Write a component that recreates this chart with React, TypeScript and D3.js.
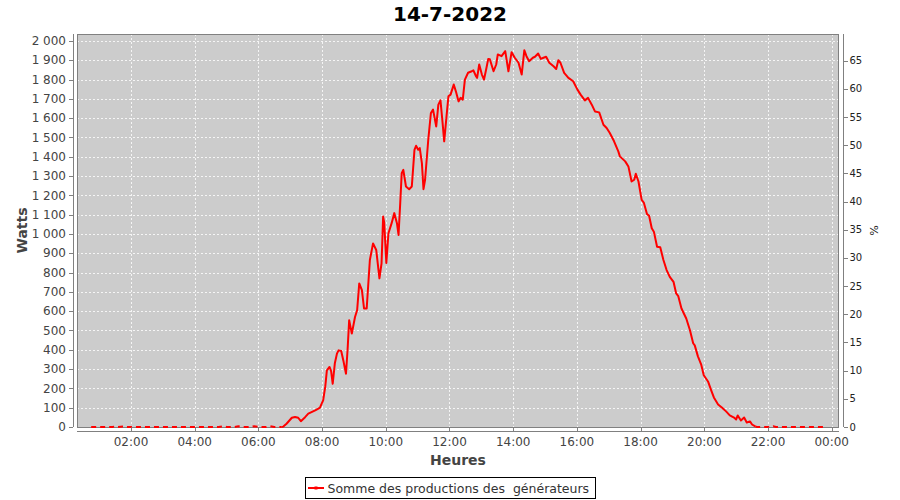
import React from "react";
import * as d3 from "d3";

const title = "14-7-2022";
const yLabel = "Watts";
const y2Label = "%";
const xLabel = "Heures";
const seriesName = "Somme des productions des  générateurs";

const times = [
  "00:45","01:25","01:30","01:35","01:47","01:52","04:45","04:53","05:00","05:15","05:22","05:30","05:45","05:52","06:00","06:15","06:22","06:30","06:44",
  "06:47","06:53","07:03","07:09","07:15","07:20","07:28","07:34","07:40","07:47","07:53","07:56","07:59",
  "08:02","08:06","08:09","08:14","08:17","08:20","08:24","08:28","08:31","08:36","08:40","08:45","08:48","08:51","08:56",
  "09:02","09:06","09:10","09:15","09:19","09:24","09:30","09:36","09:42","09:48","09:52","09:55","09:57",
  "10:01","10:05","10:11","10:16","10:21","10:24","10:27","10:30","10:33","10:38","10:44","10:49","10:54","10:57",
  "11:01","11:04","11:08","11:11","11:14","11:20","11:25","11:29","11:35","11:39","11:43","11:47","11:50","11:55","11:58",
  "12:02","12:08","12:12","12:17","12:21","12:25","12:29","12:35","12:42","12:45","12:50","12:52","12:56",
  "13:01","13:05","13:09","13:13","13:16","13:23","13:28","13:31","13:38","13:45","13:51","13:57",
  "14:03","14:10","14:16","14:21","14:25","14:30","14:37","14:41","14:47","14:52","14:57",
  "15:02","15:08","15:16","15:21","15:25","15:29","15:36","15:44","15:53",
  "16:01","16:07","16:15","16:21","16:28","16:34","16:42","16:50","16:56",
  "17:02","17:10","17:18","17:21","17:31","17:37","17:43","17:48","17:51","17:56",
  "18:02","18:06","18:12","18:16","18:21","18:25","18:31","18:37","18:43","18:49","18:55",
  "19:02","19:07","19:11","19:17","19:26","19:33","19:39","19:42","19:48","19:54","19:59",
  "20:07","20:13","20:18","20:26","20:33","20:41","20:48","20:56",
  "21:00","21:03","21:09","21:15","21:20","21:26","21:30","21:36","21:39",
  "22:05","22:10","22:15","23:50"
];

const watts = [
  0,0,3,0,3,0,0,4,0,0,4,0,0,4,0,0,4,0,0,
  2,17,48,52,48,30,51,69,77,86,95,100,120,
  138,210,293,311,290,224,330,380,397,394,345,276,400,553,484,
  570,605,744,709,614,614,865,951,917,770,848,1090,1060,
  850,1004,1056,1108,1056,995,1150,1315,1332,1246,1232,1246,1436,1457,
  1436,1445,1367,1232,1281,1488,1627,1644,1557,1670,1692,1575,1480,1627,1713,
  1722,1774,1739,1687,1705,1696,1800,1835,1843,1848,1817,1809,1878,
  1826,1800,1852,1907,1905,1843,1878,1930,1921,1947,1843,1942,
  1913,1887,1826,1952,1921,1895,1913,1918,1935,1907,1913,
  1918,1887,1869,1855,1900,1887,1835,1809,1791,
  1748,1722,1692,1705,1670,1635,1630,1566,1549,
  1523,1480,1428,1402,1376,1350,1272,1281,1312,1272,
  1177,1163,1104,1094,1030,1012,934,931,865,813,778,
  752,692,678,614,562,501,434,423,366,325,268,
  236,190,153,117,101,81,60,49,
  39,60,34,49,23,29,13,3,0,
  0,4,0,0
];

const xTickHours = [2, 4, 6, 8, 10, 12, 14, 16, 18, 20, 22, 24];
const xTickLabels = ["02:00","04:00","06:00","08:00","10:00","12:00","14:00","16:00","18:00","20:00","22:00","00:00"];
const wattTicks = d3.range(0, 2001, 100);
const pctTicks = d3.range(0, 66, 5);

const frLocale = d3.formatLocale({ decimal: ",", thousands: " ", grouping: [3], currency: ["", ""] });
const fmtW = frLocale.format(",");

const toHours = (s: string) => {
  const [h, m] = s.split(":").map(Number);
  return h + m / 60;
};

export default function App() {
  const W = 900, H = 500;
  const left = 77, right = 839, top = 34, bottom = 427;
  const font = "'DejaVu Sans', sans-serif";

  const x = d3.scaleLinear().domain([0.305, 24.229]).range([left, right]);
  const y = d3.scaleLinear().domain([0, 2036]).range([bottom, top]);
  const y2 = d3.scaleLinear().domain([0, 69.74]).range([bottom, top]);

  const data = times.map((t, i) => ({ h: toHours(t), v: watts[i] }));
  let first = data.findIndex((d) => d.v > 5);
  let last = data.length - 1 - [...data].reverse().findIndex((d) => d.v > 5);
  const dayStart = Math.max(0, first - 2);
  const dayEnd = Math.min(data.length - 1, last + 1);

  const line = d3.line<{ h: number; v: number }>().x((d) => x(d.h)).y((d) => y(d.v));
  const dayPath = line(data.slice(dayStart, dayEnd + 1)) || "";
  const nightA = line(data.slice(0, dayStart + 1)) || "";
  const nightB = line(data.slice(dayEnd)) || "";

  return (
    <svg width={W} height={H} style={{ position: "absolute", left: 0, top: 0, background: "#fff" }} fontFamily={font}>
      <rect x={0} y={0} width={W} height={H} fill="#fff" />
      <text x={450} y={21} textAnchor="middle" fontSize={20} fontWeight="bold" fill="#000">{title}</text>

      {/* plot area */}
      <rect x={left} y={top} width={right - left} height={bottom - top} fill="#cccccc" />
      {wattTicks.map((t) => (
        <line key={"gy" + t} x1={left} x2={right} y1={Math.round(y(t)) + 0.5} y2={Math.round(y(t)) + 0.5} stroke="#ffffff" strokeWidth={0.8} strokeDasharray="2,2" />
      ))}
      {xTickHours.map((t) => (
        <line key={"gx" + t} x1={Math.round(x(t)) + 0.5} x2={Math.round(x(t)) + 0.5} y1={top} y2={bottom} stroke="#ffffff" strokeWidth={0.8} strokeDasharray="2,2" />
      ))}
      <rect x={left + 0.5} y={top + 0.5} width={right - left - 1} height={bottom - top} fill="none" stroke="#808080" strokeWidth={1} />

      {/* series */}
      <path d={nightA} fill="none" stroke="#ff0000" strokeWidth={2} strokeDasharray="5,4" />
      <path d={nightB} fill="none" stroke="#ff0000" strokeWidth={2} strokeDasharray="5,4" />
      <path d={dayPath} fill="none" stroke="#ff0000" strokeWidth={2} strokeLinejoin="round" />

      {/* left axis */}
      <line x1={73.5} x2={73.5} y1={top} y2={bottom} stroke="#808080" />
      {wattTicks.map((t) => (
        <g key={"ly" + t}>
          <line x1={69} x2={73} y1={Math.round(y(t)) + 0.5} y2={Math.round(y(t)) + 0.5} stroke="#808080" />
          <text x={66} y={y(t)} dy="0.35em" textAnchor="end" fontSize={12} fill="#444">{fmtW(t)}</text>
        </g>
      ))}
      <text transform={`translate(27,${(top + bottom) / 2}) rotate(-90)`} textAnchor="middle" fontSize={14} fontWeight="bold" fill="#444">{yLabel}</text>

      {/* right axis */}
      <line x1={843.5} x2={843.5} y1={top} y2={bottom} stroke="#808080" />
      {pctTicks.map((t) => (
        <g key={"ry" + t}>
          <line x1={844} x2={848} y1={Math.round(y2(t)) + 0.5} y2={Math.round(y2(t)) + 0.5} stroke="#808080" />
          <text x={849.5} y={y2(t)} dy="0.35em" fontSize={10} fill="#222">{t}</text>
        </g>
      ))}
      <text transform={`translate(870,${(top + bottom) / 2}) rotate(90)`} textAnchor="middle" fontSize={11} fill="#222">{y2Label}</text>

      {/* bottom axis */}
      <line x1={left} x2={right} y1={431.5} y2={431.5} stroke="#808080" />
      {xTickHours.map((t, i) => (
        <g key={"xt" + t}>
          <line x1={Math.round(x(t)) + 0.5} x2={Math.round(x(t)) + 0.5} y1={427.5} y2={431.5} stroke="#808080" />
          <text x={x(t)} y={446} textAnchor="middle" fontSize={12} fill="#444">{xTickLabels[i]}</text>
        </g>
      ))}
      <text x={(left + right) / 2} y={465} textAnchor="middle" fontSize={14} fontWeight="bold" fill="#444">{xLabel}</text>

      {/* legend */}
      <rect x={305.5} y={477.5} width={290} height={21} fill="#fff" stroke="#000" />
      <line x1={308} x2={324} y1={488} y2={488} stroke="#ff0000" strokeWidth={2} />
      <rect x={314.5} y={486.5} width={3} height={3} fill="#ff0000" />
      <text x={327.5} y={492.5} fontSize={12.5} fill="#333" style={{ whiteSpace: "pre" }}>{seriesName}</text>
    </svg>
  );
}
